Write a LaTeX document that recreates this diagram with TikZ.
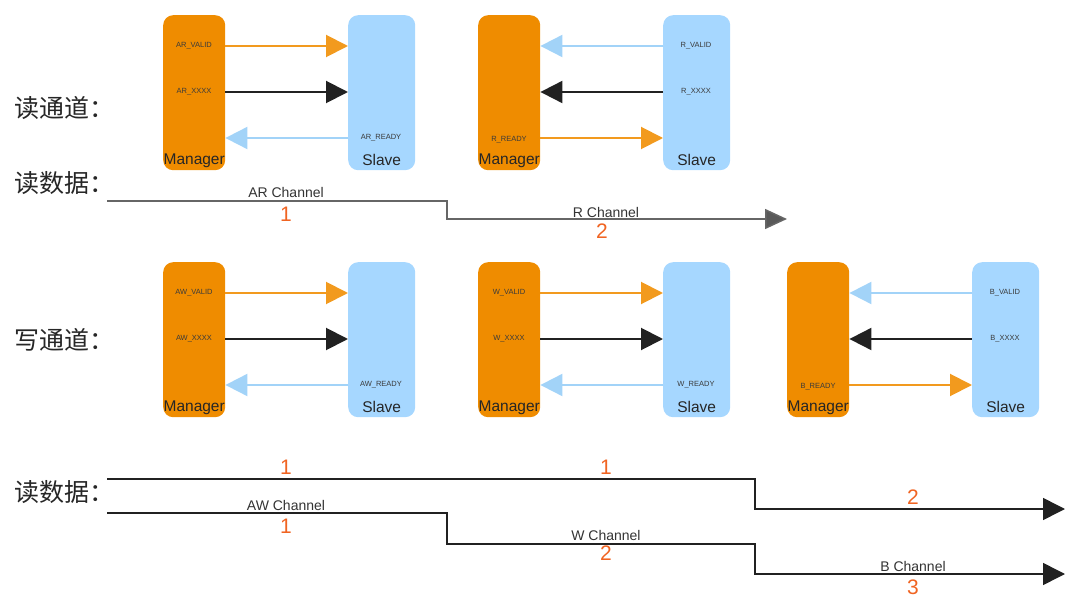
\documentclass[tikz,border=0pt]{standalone}
\usepackage{fontspec}
\setmainfont{Liberation Sans}
\newfontfamily\cjk{Noto Sans CJK SC}
\usetikzlibrary{arrows.meta}

\definecolor{mgrorange}{HTML}{EF8C00}
\definecolor{slvblue}{HTML}{A6D7FF}
\definecolor{arrblue}{HTML}{A2D3F8}
\definecolor{arrorange}{HTML}{F29A1E}
\definecolor{numorange}{HTML}{F06422}
\definecolor{sigtext}{HTML}{3A3A3A}

\tikzset{
  mgr/.style={fill=mgrorange, rounded corners=10pt, minimum width=62pt, minimum height=155pt, anchor=north west, inner sep=0pt},
  slv/.style={fill=slvblue, rounded corners=10pt, minimum width=67pt, minimum height=155pt, anchor=north west, inner sep=0pt},
  boxname/.style={font=\fontsize{15.5}{15.5}\selectfont, text=black!85, inner sep=0pt},
  sig/.style={font=\fontsize{7.5}{7.5}\selectfont, text=sigtext, inner sep=0pt},
  headtxt/.style={font=\cjk\fontsize{25}{25}\selectfont, text=black!85, inner sep=0pt, anchor=west},
  chan/.style={font=\fontsize{14}{14}\selectfont, text=black!80, inner sep=0pt},
  num/.style={font=\fontsize{21}{21}\selectfont, text=numorange, inner sep=0pt},
  valid/.style={draw=arrorange, line width=2pt, -{Triangle[length=22pt,width=22pt]}},
  data/.style={draw=black!87, line width=2pt, -{Triangle[length=22pt,width=22pt]}},
  ready/.style={draw=arrblue, line width=2pt, -{Triangle[length=22pt,width=22pt]}},
  gline/.style={draw=black!60, line width=1.5pt, -{Triangle[length=22pt,width=20pt,fill=black!65]}},
  bline/.style={draw=black!87, line width=1.5pt, -{Triangle[length=22pt,width=22pt]}}
}

\begin{document}
\begin{tikzpicture}[x=1pt, y=-1pt]
  \useasboundingbox (0,0) rectangle (1080,615);

  % headings
  \node [headtxt] (hrd) at (14,108) {读通道：};
  \node [headtxt] (hrdata) at (14,183) {读数据：};
  \node [headtxt] (hwr) at (14,340) {写通道：};
  \node [headtxt] (hwrdata) at (14,492) {读数据：};

  % AR channel
  \node [mgr] (m1) at (163,15) {};
  \node [slv] (s1) at (348,15) {};
  \node [boxname] (m1n) at ([yshift=10pt]m1.south) {Manager};
  \node [boxname] (s1n) at ([yshift=10pt]s1.south) {Slave};
  \node [sig] (arv) at (194,46) {AR\_VALID};
  \node [sig] (arx) at (194,92) {AR\_XXXX};
  \node [sig] (arr) at (381,138) {AR\_READY};
  \draw [valid] (m1.east |- arv) -- (s1.west |- arv);
  \draw [data] (m1.east |- arx) -- (s1.west |- arx);
  \draw [ready] (s1.west |- arr) -- (m1.east |- arr);

  % R channel
  \node [mgr] (m2) at (478,15) {};
  \node [slv] (s2) at (663,15) {};
  \node [boxname] (m2n) at ([yshift=10pt]m2.south) {Manager};
  \node [boxname] (s2n) at ([yshift=10pt]s2.south) {Slave};
  \node [sig] (rv) at (696,46) {R\_VALID};
  \node [sig] (rx) at (696,92) {R\_XXXX};
  \node [sig] (rr) at (509,140) {R\_READY};
  \draw [ready] (s2.west |- rv) -- (m2.east |- rv);
  \draw [data] (s2.west |- rx) -- (m2.east |- rx);
  \draw [valid] (m2.east |- 0,138) -- (s2.west |- 0,138);

  % read timeline
  \coordinate (t1s) at (107,201);
  \coordinate (t1a) at (447,201);
  \coordinate (t1b) at (447,219);
  \coordinate (t1e) at (787,219);
  \draw [gline] (t1s) -- (t1a) -- (t1b) -- (t1e);
  \node [chan] (arch) at (286,192) {AR Channel};
  \node [num] (arnum) at (286,214) {1};
  \node [chan] (rch) at (606,212) {R Channel};
  \node [num] (rnum) at (602,231) {2};

  % AW channel
  \node [mgr] (m3) at (163,262) {};
  \node [slv] (s3) at (348,262) {};
  \node [boxname] (m3n) at ([yshift=10pt]m3.south) {Manager};
  \node [boxname] (s3n) at ([yshift=10pt]s3.south) {Slave};
  \node [sig] (awv) at (194,293) {AW\_VALID};
  \node [sig] (awx) at (194,339) {AW\_XXXX};
  \node [sig] (awr) at (381,385) {AW\_READY};
  \draw [valid] (m3.east |- awv) -- (s3.west |- awv);
  \draw [data] (m3.east |- awx) -- (s3.west |- awx);
  \draw [ready] (s3.west |- awr) -- (m3.east |- awr);

  % W channel
  \node [mgr] (m4) at (478,262) {};
  \node [slv] (s4) at (663,262) {};
  \node [boxname] (m4n) at ([yshift=10pt]m4.south) {Manager};
  \node [boxname] (s4n) at ([yshift=10pt]s4.south) {Slave};
  \node [sig] (wv) at (509,293) {W\_VALID};
  \node [sig] (wx) at (509,339) {W\_XXXX};
  \node [sig] (wr) at (696,385) {W\_READY};
  \draw [valid] (m4.east |- wv) -- (s4.west |- wv);
  \draw [data] (m4.east |- wx) -- (s4.west |- wx);
  \draw [ready] (s4.west |- wr) -- (m4.east |- wr);

  % B channel
  \node [mgr] (m5) at (787,262) {};
  \node [slv] (s5) at (972,262) {};
  \node [boxname] (m5n) at ([yshift=10pt]m5.south) {Manager};
  \node [boxname] (s5n) at ([yshift=10pt]s5.south) {Slave};
  \node [sig] (bv) at (1005,293) {B\_VALID};
  \node [sig] (bx) at (1005,339) {B\_XXXX};
  \node [sig] (br) at (818,387) {B\_READY};
  \draw [ready] (s5.west |- bv) -- (m5.east |- bv);
  \draw [data] (s5.west |- bx) -- (m5.east |- bx);
  \draw [valid] (m5.east |- 0,385) -- (s5.west |- 0,385);

  % write timelines
  \coordinate (t2s) at (107,479);
  \coordinate (t2a) at (755,479);
  \coordinate (t2b) at (755,509);
  \coordinate (t2e) at (1065,509);
  \draw [bline] (t2s) -- (t2a) -- (t2b) -- (t2e);
  \node [num] (n2a) at (286,467) {1};
  \node [num] (n2b) at (606,467) {1};
  \node [num] (n2c) at (913,497) {2};

  \coordinate (t3s) at (107,513);
  \coordinate (t3a) at (447,513);
  \coordinate (t3b) at (447,544);
  \coordinate (t3c) at (755,544);
  \coordinate (t3d) at (755,574);
  \coordinate (t3e) at (1065,574);
  \draw [bline] (t3s) -- (t3a) -- (t3b) -- (t3c) -- (t3d) -- (t3e);
  \node [chan] (awch) at (286,505) {AW Channel};
  \node [num] (awnum) at (286,526) {1};
  \node [chan] (wch) at (606,535) {W Channel};
  \node [num] (wnum) at (606,553) {2};
  \node [chan] (bch) at (913,566) {B Channel};
  \node [num] (bnum) at (913,587) {3};
\end{tikzpicture}
\end{document}
